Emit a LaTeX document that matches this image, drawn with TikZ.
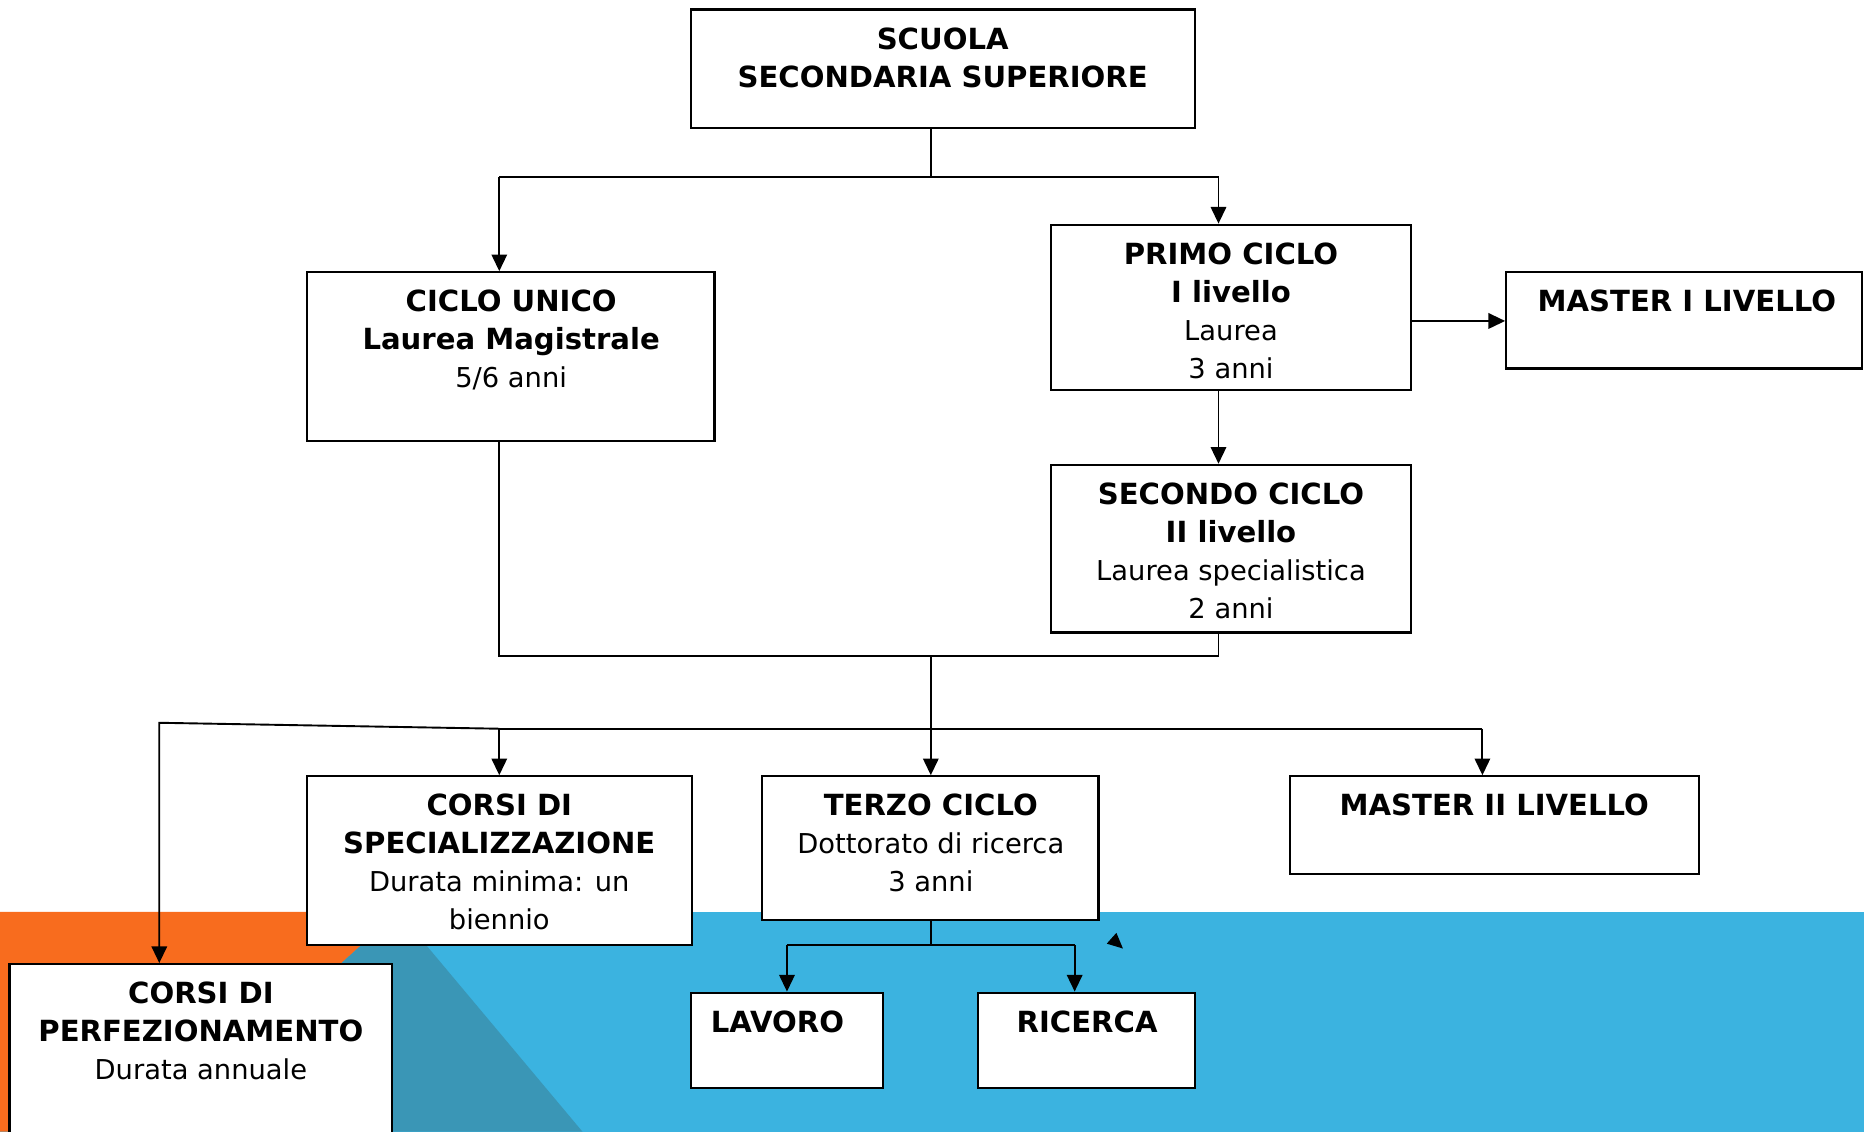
\documentclass[tikz,border=0pt]{standalone}
\usepackage{fontspec}
\setmainfont{DejaVu Sans}
\usetikzlibrary{arrows.meta,calc}
\definecolor{bgorange}{RGB}{248,108,30}
\definecolor{bgblue}{RGB}{59,179,224}
\definecolor{bgteal}{RGB}{58,150,182}
\newcommand{\boldline}[1]{{\fontsize{24.5}{32}\selectfont\bfseries #1}}
\newcommand{\mystrut}{\rule{0pt}{25pt}}
\begin{document}
\begin{tikzpicture}[x=1pt,y=-1pt,
  box/.style={draw=black, line width=1.8pt, fill=white, inner sep=0pt, rectangle},
  lbl/.style={align=center, anchor=north, inner sep=0pt, font=\fontsize{23}{32}\selectfont},
  conn/.style={line width=1.6pt},
  arr/.style={conn, -{Triangle[length=14pt,width=13pt]}}]
\useasboundingbox (0,0) rectangle (1568,952);
% background
\fill[white] (0,0) rectangle (1568,952);
\fill[bgblue] (0,767) rectangle (1568,952);
\fill[bgorange] (0,767) -- (335,767) -- (130,952) -- (0,952) -- cycle;
\fill[bgteal] (335,767) -- (490,952) -- (130,952) -- cycle;
% boxes
\node[box, minimum width=424pt, minimum height=100pt] (A) at (793,58) {};
\node[box, minimum width=343pt, minimum height=142pt] (B) at (429.5,300) {};
\node[box, minimum width=303pt, minimum height=139pt] (C) at (1035.5,258.5) {};
\node[box, minimum width=299pt, minimum height=81pt] (D) at (1416.5,269.5) {};
\node[box, minimum width=303pt, minimum height=141pt] (E) at (1035.5,461.5) {};
\node[box, minimum width=324pt, minimum height=142pt] (F) at (420,724) {};
\node[box, minimum width=283pt, minimum height=121pt] (G) at (782.5,713.5) {};
\node[box, minimum width=344pt, minimum height=82pt] (H) at (1257,694) {};
\node[box, minimum width=322pt, minimum height=160pt] (I) at (169,891) {};
\node[box, minimum width=162pt, minimum height=80pt] (J) at (662,875) {};
\node[box, minimum width=182pt, minimum height=80pt] (K) at (914,875) {};
% texts
\node[lbl] (tA) at ($(A.north)+(0,9)$) {\mystrut\boldline{SCUOLA}\\\boldline{SECONDARIA SUPERIORE}};
\node[lbl] (tB) at ($(B.north)+(0.5,9)$) {\mystrut\boldline{CICLO UNICO}\\\boldline{Laurea Magistrale}\\5/6 anni};
\node[lbl] (tC) at ($(C.north)+(0,9)$) {\mystrut\boldline{PRIMO CICLO}\\\boldline{I livello}\\Laurea\\3 anni};
\node[lbl] (tD) at ($(D.north)+(2.5,9)$) {\mystrut\boldline{MASTER I LIVELLO}};
\node[lbl] (tE) at ($(E.north)+(0,9)$) {\mystrut\boldline{SECONDO CICLO}\\\boldline{II livello}\\Laurea specialistica\\2 anni};
\node[lbl] (tF) at ($(F.north)+(0,9)$) {\mystrut\boldline{CORSI DI}\\\boldline{SPECIALIZZAZIONE}\\Durata minima: un\\biennio};
\node[lbl] (tG) at ($(G.north)+(0.5,9)$) {\mystrut\boldline{TERZO CICLO}\\Dottorato di ricerca\\3 anni};
\node[lbl] (tH) at ($(H.north)+(0,9)$) {\mystrut\boldline{MASTER II LIVELLO}};
\node[lbl] (tI) at ($(I.north)+(0,9)$) {\mystrut\boldline{CORSI DI}\\\boldline{PERFEZIONAMENTO}\\Durata annuale};
\node[lbl] (tJ) at ($(J.north)+(-8,9)$) {\mystrut\boldline{LAVORO}};
\node[lbl] (tK) at ($(K.north)+(0.5,9)$) {\mystrut\boldline{RICERCA}};
% junction coordinates
\coordinate (j1) at (783,149);
\coordinate (jl) at (420,149);
\coordinate (jr) at (1025,149);
\coordinate (cd) at (1187,270);
\coordinate (m1) at (420,552);
\coordinate (m2) at (1025,552);
\coordinate (mc) at (783,552);
\coordinate (r1) at (420,613);
\coordinate (r2) at (1247,613);
\coordinate (p) at (134,608);
\coordinate (t) at (783,795);
\coordinate (t1) at (662,795);
\coordinate (t2) at (904,795);
% connectors
\draw[conn] (A.south -| j1) -- (j1);
\draw[conn] (jl) -- (jr);
\draw[arr] (jl) -- (jl |- B.north);
\draw[arr] (jr) -- (jr |- C.north);
\draw[arr] (C.east |- cd) -- (D.west |- cd);
\draw[arr] (C.south -| jr) -- (E.north -| jr);
\draw[conn] (B.south -| m1) -- (m1) -- (m2) -- (E.south -| m2);
\draw[arr] (mc) -- (G.north -| mc);
\draw[conn] (r1) -- (r2);
\draw[arr] (r1) -- (F.north -| r1);
\draw[arr] (r2) -- (H.north -| r2);
\draw[arr] (r1) -- (p) -- (I.north -| p);
\draw[conn] (G.south -| t) -- (t);
\draw[conn] (t1) -- (t2);
\draw[arr] (t1) -- (J.north -| t1);
\draw[arr] (t2) -- (K.north -| t2);
% stray arrowhead
\fill[black] (939.1,784.7) -- (931,793.8) -- (944.6,797.9) -- cycle;
\end{tikzpicture}
\end{document}
